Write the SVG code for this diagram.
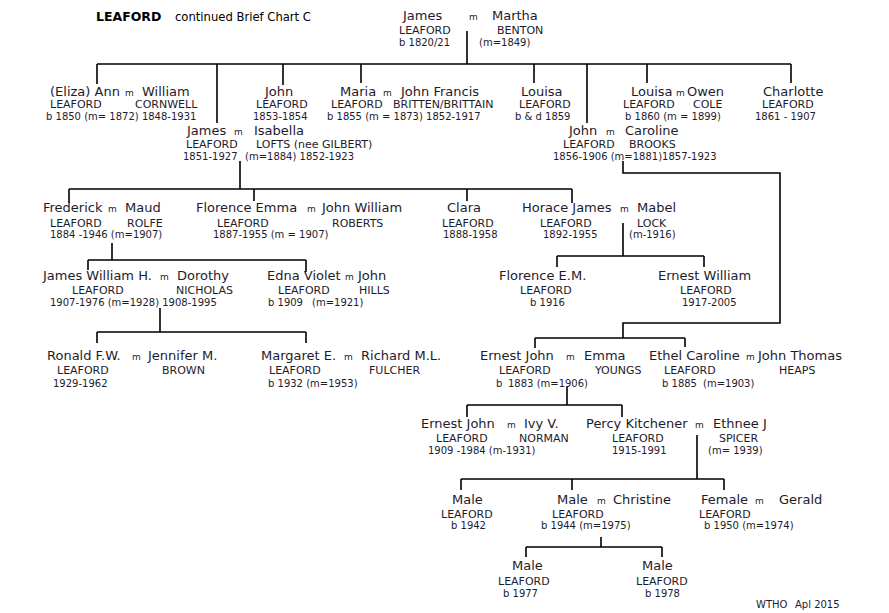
<svg xmlns="http://www.w3.org/2000/svg" width="889" height="613" viewBox="0 0 889 613">
<style>
text{font-family:"DejaVu Sans",Verdana,sans-serif;fill:#1e1b2b}
.n{font-size:13px}
.s{font-size:11px}
.d{font-size:10px}
.m{font-size:9px}
.tb{font-size:12.5px;font-weight:bold;fill:#000}
.t{font-size:11.6px;fill:#000}
.c{fill:none;stroke:#000;stroke-width:1.6}
</style>
<rect width="889" height="613" fill="#fff"/>
<g id="title"><text class="tb" x="96" y="21">LEAFORD</text><text class="t" x="175" y="21">continued Brief Chart C</text></g>
<g id="connectors">
<path class="c" d="M467,31V64M97,64H791M97,64V84M217,64V123M283,64V85M361,64V83M534,64V83M587,64V123M647,64V83M791,64V83"/>
<path class="c" d="M240,161V189M69,189H572M69,189V203M254,189V201M467,189V201M572,189V203"/>
<path class="c" d="M623,161V173H780V323H623V338M535,338H685M535,338V348M685,338V347"/>
<path class="c" d="M112,243V260M88,260H306M88,260V270M306,260V272"/>
<path class="c" d="M623,223V256M557,256H704M557,256V267M704,256V267"/>
<path class="c" d="M160,308V332M97,332H306M97,332V343M306,332V343"/>
<path class="c" d="M567,387V405M467,405H622M467,405V417M622,405V417"/>
<path class="c" d="M697,435V479M461,479H724M461,479V490M572,479V490M724,479V490"/>
<path class="c" d="M601,537V547M526,547H662M526,547V557M662,547V557"/>
</g>
<g id="james-martha"><text class="n" x="403" y="20">James</text><text class="m" x="469" y="20">m</text><text class="n" x="492" y="20">Martha</text><text class="s" x="399" y="34">LEAFORD</text><text class="s" x="497" y="34">BENTON</text><text class="d" x="399" y="46">b 1820/21</text><text class="d" x="479" y="46">(m=1849)</text></g>
<g id="ann-william"><text class="n" x="50" y="96">(Eliza) Ann</text><text class="m" x="125" y="96">m</text><text class="n" x="142" y="96">William</text><text class="s" x="50" y="108">LEAFORD</text><text class="s" x="135" y="108">CORNWELL</text><text class="d" x="46" y="120">b 1850 (m= 1872) 1848-1931</text></g>
<g id="john-1853"><text class="n" x="265" y="96">John</text><text class="s" x="256" y="108">LEAFORD</text><text class="d" x="253" y="120">1853-1854</text></g>
<g id="maria-john"><text class="n" x="340" y="96">Maria</text><text class="m" x="383" y="96">m</text><text class="n" x="401" y="96">John Francis</text><text class="s" x="331" y="108">LEAFORD</text><text class="s" x="393" y="108">BRITTEN/BRITTAIN</text><text class="d" x="327" y="120">b 1855 (m = 1873) 1852-1917</text></g>
<g id="louisa-1859"><text class="n" x="521" y="96">Louisa</text><text class="s" x="519" y="108">LEAFORD</text><text class="d" x="515" y="120">b &amp; d 1859</text></g>
<g id="louisa-owen"><text class="n" x="631" y="96">Louisa</text><text class="m" x="676" y="96">m</text><text class="n" x="687" y="96">Owen</text><text class="s" x="623" y="108">LEAFORD</text><text class="s" x="693" y="108">COLE</text><text class="d" x="625" y="120">b 1860 (m = 1899)</text></g>
<g id="charlotte"><text class="n" x="763" y="96">Charlotte</text><text class="s" x="762" y="108">LEAFORD</text><text class="d" x="755" y="120">1861 - 1907</text></g>
<g id="james-isabella"><text class="n" x="187" y="135">James</text><text class="m" x="234" y="135">m</text><text class="n" x="254" y="135">Isabella</text><text class="s" x="186" y="148">LEAFORD</text><text class="s" x="256" y="148">LOFTS (nee GILBERT)</text><text class="d" x="183" y="160">1851-1927</text><text class="d" x="245" y="160">(m=1884) 1852-1923</text></g>
<g id="john-caroline"><text class="n" x="569" y="135">John</text><text class="m" x="606" y="135">m</text><text class="n" x="625" y="135">Caroline</text><text class="s" x="563" y="148">LEAFORD</text><text class="s" x="629" y="148">BROOKS</text><text class="d" x="553" y="160">1856-1906 (m=1881)1857-1923</text></g>
<g id="frederick-maud"><text class="n" x="43" y="212">Frederick</text><text class="m" x="108" y="212">m</text><text class="n" x="125" y="212">Maud</text><text class="s" x="50" y="227">LEAFORD</text><text class="s" x="127" y="227">ROLFE</text><text class="d" x="50" y="238">1884 -1946 (m=1907)</text></g>
<g id="florence-john"><text class="n" x="196" y="212">Florence Emma</text><text class="m" x="307" y="212">m</text><text class="n" x="322" y="212">John William</text><text class="s" x="217" y="227">LEAFORD</text><text class="s" x="332" y="227">ROBERTS</text><text class="d" x="213" y="238">1887-1955 (m = 1907)</text></g>
<g id="clara"><text class="n" x="447" y="212">Clara</text><text class="s" x="442" y="227">LEAFORD</text><text class="d" x="443" y="238">1888-1958</text></g>
<g id="horace-mabel"><text class="n" x="522" y="212">Horace James</text><text class="m" x="620" y="212">m</text><text class="n" x="637" y="212">Mabel</text><text class="s" x="540" y="227">LEAFORD</text><text class="s" x="637" y="227">LOCK</text><text class="d" x="543" y="238">1892-1955</text><text class="d" x="629" y="238">(m-1916)</text></g>
<g id="james-dorothy"><text class="n" x="43" y="280">James William H.</text><text class="m" x="160" y="280">m</text><text class="n" x="177" y="280">Dorothy</text><text class="s" x="72" y="294">LEAFORD</text><text class="s" x="176" y="294">NICHOLAS</text><text class="d" x="50" y="306">1907-1976 (m=1928) 1908-1995</text></g>
<g id="edna-john"><text class="n" x="267" y="280">Edna Violet</text><text class="m" x="345" y="280">m</text><text class="n" x="358" y="280">John</text><text class="s" x="278" y="294">LEAFORD</text><text class="s" x="359" y="294">HILLS</text><text class="d" x="268" y="306">b 1909</text><text class="d" x="312" y="306">(m=1921)</text></g>
<g id="florence-em"><text class="n" x="499" y="280">Florence E.M.</text><text class="s" x="520" y="294">LEAFORD</text><text class="d" x="530" y="306">b 1916</text></g>
<g id="ernest-william"><text class="n" x="658" y="280">Ernest William</text><text class="s" x="680" y="294">LEAFORD</text><text class="d" x="682" y="306">1917-2005</text></g>
<g id="ronald-jennifer"><text class="n" x="47" y="360">Ronald F.W.</text><text class="m" x="132" y="360">m</text><text class="n" x="148" y="360">Jennifer M.</text><text class="s" x="57" y="374">LEAFORD</text><text class="s" x="162" y="374">BROWN</text><text class="d" x="53" y="387">1929-1962</text></g>
<g id="margaret-richard"><text class="n" x="261" y="360">Margaret E.</text><text class="m" x="344" y="360">m</text><text class="n" x="361" y="360">Richard M.L.</text><text class="s" x="269" y="374">LEAFORD</text><text class="s" x="369" y="374">FULCHER</text><text class="d" x="268" y="387">b 1932 (m=1953)</text></g>
<g id="ernest-emma"><text class="n" x="480" y="360">Ernest John</text><text class="m" x="566" y="360">m</text><text class="n" x="584" y="360">Emma</text><text class="s" x="499" y="374">LEAFORD</text><text class="s" x="595" y="374">YOUNGS</text><text class="d" x="496" y="387">b</text><text class="d" x="508" y="387">1883 (m=1906)</text></g>
<g id="ethel-john"><text class="n" x="649" y="360">Ethel Caroline</text><text class="m" x="746" y="360">m</text><text class="n" x="758" y="360">John Thomas</text><text class="s" x="664" y="374">LEAFORD</text><text class="s" x="779" y="374">HEAPS</text><text class="d" x="662" y="387">b 1885</text><text class="d" x="703" y="387">(m=1903)</text></g>
<g id="ernest-ivy"><text class="n" x="421" y="428">Ernest John</text><text class="m" x="507" y="428">m</text><text class="n" x="524" y="428">Ivy V.</text><text class="s" x="436" y="442">LEAFORD</text><text class="s" x="519" y="442">NORMAN</text><text class="d" x="428" y="454">1909 -1984 (m-1931)</text></g>
<g id="percy-ethnee"><text class="n" x="586" y="428">Percy Kitchener</text><text class="m" x="695" y="428">m</text><text class="n" x="713" y="428">Ethnee J</text><text class="s" x="612" y="442">LEAFORD</text><text class="s" x="719" y="442">SPICER</text><text class="d" x="612" y="454">1915-1991</text><text class="d" x="708" y="454">(m= 1939)</text></g>
<g id="male-1942"><text class="n" x="452" y="504">Male</text><text class="s" x="441" y="518">LEAFORD</text><text class="d" x="451" y="529">b 1942</text></g>
<g id="male-christine"><text class="n" x="557" y="504">Male</text><text class="m" x="597" y="504">m</text><text class="n" x="613" y="504">Christine</text><text class="s" x="552" y="518">LEAFORD</text><text class="d" x="541" y="529">b 1944 (m=1975)</text></g>
<g id="female-gerald"><text class="n" x="701" y="504">Female</text><text class="m" x="755" y="504">m</text><text class="n" x="779" y="504">Gerald</text><text class="s" x="699" y="518">LEAFORD</text><text class="d" x="704" y="529">b 1950 (m=1974)</text></g>
<g id="male-1977"><text class="n" x="512" y="570">Male</text><text class="s" x="498" y="585">LEAFORD</text><text class="d" x="503" y="597">b 1977</text></g>
<g id="male-1978"><text class="n" x="642" y="570">Male</text><text class="s" x="636" y="585">LEAFORD</text><text class="d" x="645" y="597">b 1978</text></g>
<g id="footer"><text class="d" x="756" y="608">WTHO</text><text class="d" x="795" y="608">Apl 2015</text></g>
</svg>
